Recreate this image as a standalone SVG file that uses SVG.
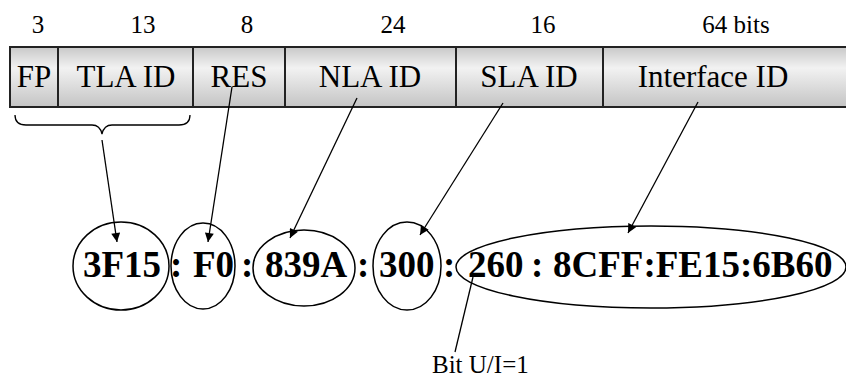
<svg xmlns="http://www.w3.org/2000/svg" width="846" height="378" viewBox="0 0 846 378">
<style>
text{font-family:'Liberation Serif','Times New Roman',Times,'DejaVu Serif',serif}
.num{font-size:25px;fill:#000;text-anchor:middle}
.fld{font-size:31px;fill:#000;text-anchor:middle}
.addr{font-size:37px;font-weight:bold;fill:#000}
.lbl{font-size:25px;fill:#000}
.cell{fill:url(#g);stroke:#222;stroke-width:2}
.ell{fill:none;stroke:#000;stroke-width:1.5}
.ln{fill:none;stroke:#000;stroke-width:1.3}
</style>
<defs>
<linearGradient id="g" x1="0" y1="0" x2="0" y2="1">
<stop offset="0" stop-color="#c8c8c8"/>
<stop offset="0.35" stop-color="#f2f2f2"/>
<stop offset="1" stop-color="#c4c4c4"/>
</linearGradient>
<marker id="ah" viewBox="0 0 10 10" refX="10" refY="5" markerWidth="10" markerHeight="9" markerUnits="userSpaceOnUse" orient="auto">
<path d="M0,0 L10,5 L0,10 z" fill="#000"/>
</marker>
</defs>
<g id="header">
<text class="num" x="38" y="33">3</text>
<text class="num" x="143" y="33">13</text>
<text class="num" x="247" y="33">8</text>
<text class="num" x="393" y="33">24</text>
<text class="num" x="543" y="33">16</text>
<text class="num" x="736" y="33">64 bits</text>
</g>
<g id="fp"><rect class="cell" x="10" y="47" width="48" height="60"/><text class="fld" x="34" y="87">FP</text></g>
<g id="tla"><rect class="cell" x="58" y="47" width="135" height="60"/><text class="fld" x="126" y="87">TLA ID</text></g>
<g id="res"><rect class="cell" x="193" y="47" width="92" height="60"/><text class="fld" x="239" y="87">RES</text></g>
<g id="nla"><rect class="cell" x="285" y="47" width="171" height="60"/><text class="fld" x="370" y="87">NLA ID</text></g>
<g id="sla"><rect class="cell" x="456" y="47" width="147" height="60"/><text class="fld" x="529" y="87">SLA ID</text></g>
<g id="iface"><rect class="cell" x="603" y="47" width="250" height="60"/><text class="fld" x="713" y="87">Interface ID</text></g>
<g id="brace"><path class="ln" d="M15,115 Q15,125 26,125 L92,125 Q100,125 102,134 Q104,125 112,125 L179,125 Q190,125 190,115"/></g>
<g id="e3f15"><ellipse class="ell" cx="121" cy="266" rx="48" ry="44"/><text class="addr" x="83" y="277">3F15</text></g>
<g id="ef0"><ellipse class="ell" cx="203" cy="266" rx="32" ry="43"/><text class="addr" x="193" y="277">F0</text></g>
<g id="e839a"><ellipse class="ell" cx="304" cy="268" rx="51" ry="38"/><text class="addr" x="265" y="277">839A</text></g>
<g id="e300"><ellipse class="ell" cx="407" cy="266" rx="34" ry="44"/><text class="addr" x="379" y="277">300</text></g>
<g id="eiface"><ellipse class="ell" cx="651" cy="267" rx="195" ry="41"/><text class="addr" x="468" y="277">260</text><text class="addr" x="553" y="277">8CFF:FE15:6B60</text></g>
<g id="colons">
<text class="addr" x="170" y="277">:</text>
<text class="addr" x="241" y="277">:</text>
<text class="addr" x="357" y="277">:</text>
<text class="addr" x="443" y="277">:</text>
<text class="addr" x="531" y="277">:</text>
</g>
<g id="bitlabel"><text class="lbl" x="432" y="373">Bit U/I=1</text></g>
<g id="connectors">
<line class="ln" x1="102" y1="140" x2="117" y2="242" marker-end="url(#ah)"/>
<line class="ln" x1="232" y1="87" x2="208" y2="242" marker-end="url(#ah)"/>
<line class="ln" x1="357" y1="98" x2="290" y2="238" marker-end="url(#ah)"/>
<line class="ln" x1="503" y1="103" x2="420" y2="235" marker-end="url(#ah)"/>
<line class="ln" x1="698" y1="102" x2="628" y2="233" marker-end="url(#ah)"/>
<line class="ln" x1="455" y1="352" x2="473" y2="277"/>
</g>
</svg>
